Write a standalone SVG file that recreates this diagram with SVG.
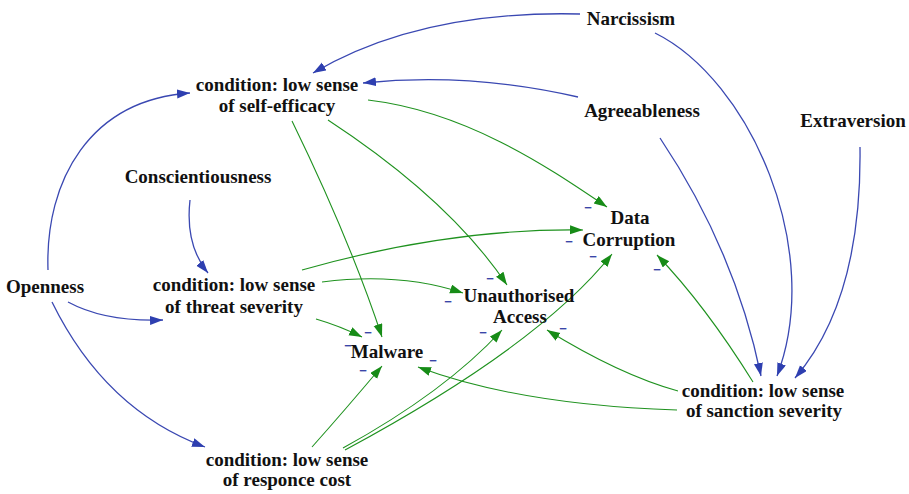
<svg xmlns="http://www.w3.org/2000/svg" width="909" height="494" viewBox="0 0 909 494">
  <style>
    .lbl { font-weight: bold; font-size: 19px; fill: #111; text-anchor: middle; }
    .neg { font-family: "Liberation Sans", Arial, sans-serif; font-weight: bold; font-size: 13px; fill: #3a45a8; text-anchor: middle; }
    .blue { fill: none; stroke: #3a48b2; stroke-width: 1.3; marker-end: url(#ahBlue); }
    .green { fill: none; stroke: #1f921f; stroke-width: 1.1; marker-end: url(#ahGreen); }
  </style>
  <defs>
    <marker id="ahBlue" markerUnits="userSpaceOnUse" markerWidth="14" markerHeight="10" refX="13" refY="4.5" orient="auto">
      <path d="M0,0 L13,4.5 L0,9 z" fill="#2e3fb0"/>
    </marker>
    <marker id="ahGreen" markerUnits="userSpaceOnUse" markerWidth="14" markerHeight="10" refX="13" refY="4.5" orient="auto">
      <path d="M0,0 L13,4.5 L0,9 z" fill="#178c17"/>
    </marker>
  </defs>
  <rect width="909" height="494" fill="#ffffff"/>

  <g id="connectors">
    <!-- personality traits to conditions -->
    <path class="blue" d="M580,14 Q420,10 313,73"/>
    <path class="blue" d="M655,33 C750,80 825,250 777,376"/>
    <path class="blue" d="M578,97 Q470,72 363,83"/>
    <path class="blue" d="M660,138 Q735,250 761,376"/>
    <path class="blue" d="M860,147 Q862,300 795,378"/>
    <path class="blue" d="M190,200 Q185,245 208,273"/>
    <path class="blue" d="M48,270 C45,180 90,100 190,93"/>
    <path class="blue" d="M68,302 Q105,322 163,320"/>
    <path class="blue" d="M52,302 Q105,410 205,447"/>

    <!-- conditions to incidents -->
    <path class="green" d="M368,100 C470,112 555,172 607,207"/>
    <path class="green" d="M328,120 Q450,200 507,285"/>
    <path class="green" d="M292,121 Q350,240 382,337"/>
    <path class="green" d="M302,270 Q450,228 583,230"/>
    <path class="green" d="M322,282 Q400,272 463,293"/>
    <path class="green" d="M316,319 Q340,326 362,337"/>
    <path class="green" d="M312,447 Q345,410 382,366"/>
    <path class="green" d="M343,448 Q445,392 502,330"/>
    <path class="green" d="M345,450 Q540,345 612,254"/>
    <path class="green" d="M753,382 Q705,305 657,255"/>
    <path class="green" d="M678,391 Q620,375 547,330"/>
    <path class="green" d="M677,410 Q520,405 418,367"/>

    <!-- link polarity -->
    <text class="neg" x="588" y="212">−</text>
    <text class="neg" x="569" y="246">−</text>
    <text class="neg" x="593" y="261">−</text>
    <text class="neg" x="657" y="274">−</text>
    <text class="neg" x="490" y="283">−</text>
    <text class="neg" x="448" y="306">−</text>
    <text class="neg" x="483" y="337">−</text>
    <text class="neg" x="563" y="333">−</text>
    <text class="neg" x="368" y="337">−</text>
    <text class="neg" x="348" y="350">−</text>
    <text class="neg" x="363" y="375">−</text>
    <text class="neg" x="433" y="365">−</text>
  </g>

  <g font-family="Liberation Serif, serif">
  <g id="narcissism"><text class="lbl" x="631" y="25">Narcissism</text></g>
  <g id="agreeableness"><text class="lbl" x="642" y="117">Agreeableness</text></g>
  <g id="extraversion"><text class="lbl" x="853" y="127">Extraversion</text></g>
  <g id="conscientiousness"><text class="lbl" x="198" y="183">Conscientiousness</text></g>
  <g id="openness"><text class="lbl" x="45" y="293">Openness</text></g>

  <g id="self-efficacy">
    <text class="lbl" x="277" y="91">condition: low sense</text>
    <text class="lbl" x="277" y="112">of self-efficacy</text>
  </g>
  <g id="threat-severity">
    <text class="lbl" x="234" y="291">condition: low sense</text>
    <text class="lbl" x="234" y="313">of threat severity</text>
  </g>
  <g id="responce-cost">
    <text class="lbl" x="287" y="466">condition: low sense</text>
    <text class="lbl" x="287" y="486">of responce cost</text>
  </g>
  <g id="sanction-severity">
    <text class="lbl" x="763" y="397">condition: low sense</text>
    <text class="lbl" x="764" y="417">of sanction severity</text>
  </g>

  <g id="data-corruption">
    <text class="lbl" x="630" y="224">Data</text>
    <text class="lbl" x="629" y="246">Corruption</text>
  </g>
  <g id="unauthorised-access">
    <text class="lbl" x="519" y="302">Unauthorised</text>
    <text class="lbl" x="520" y="323">Access</text>
  </g>
  <g id="malware"><text class="lbl" x="387" y="358">Malware</text></g>
  </g>
</svg>
